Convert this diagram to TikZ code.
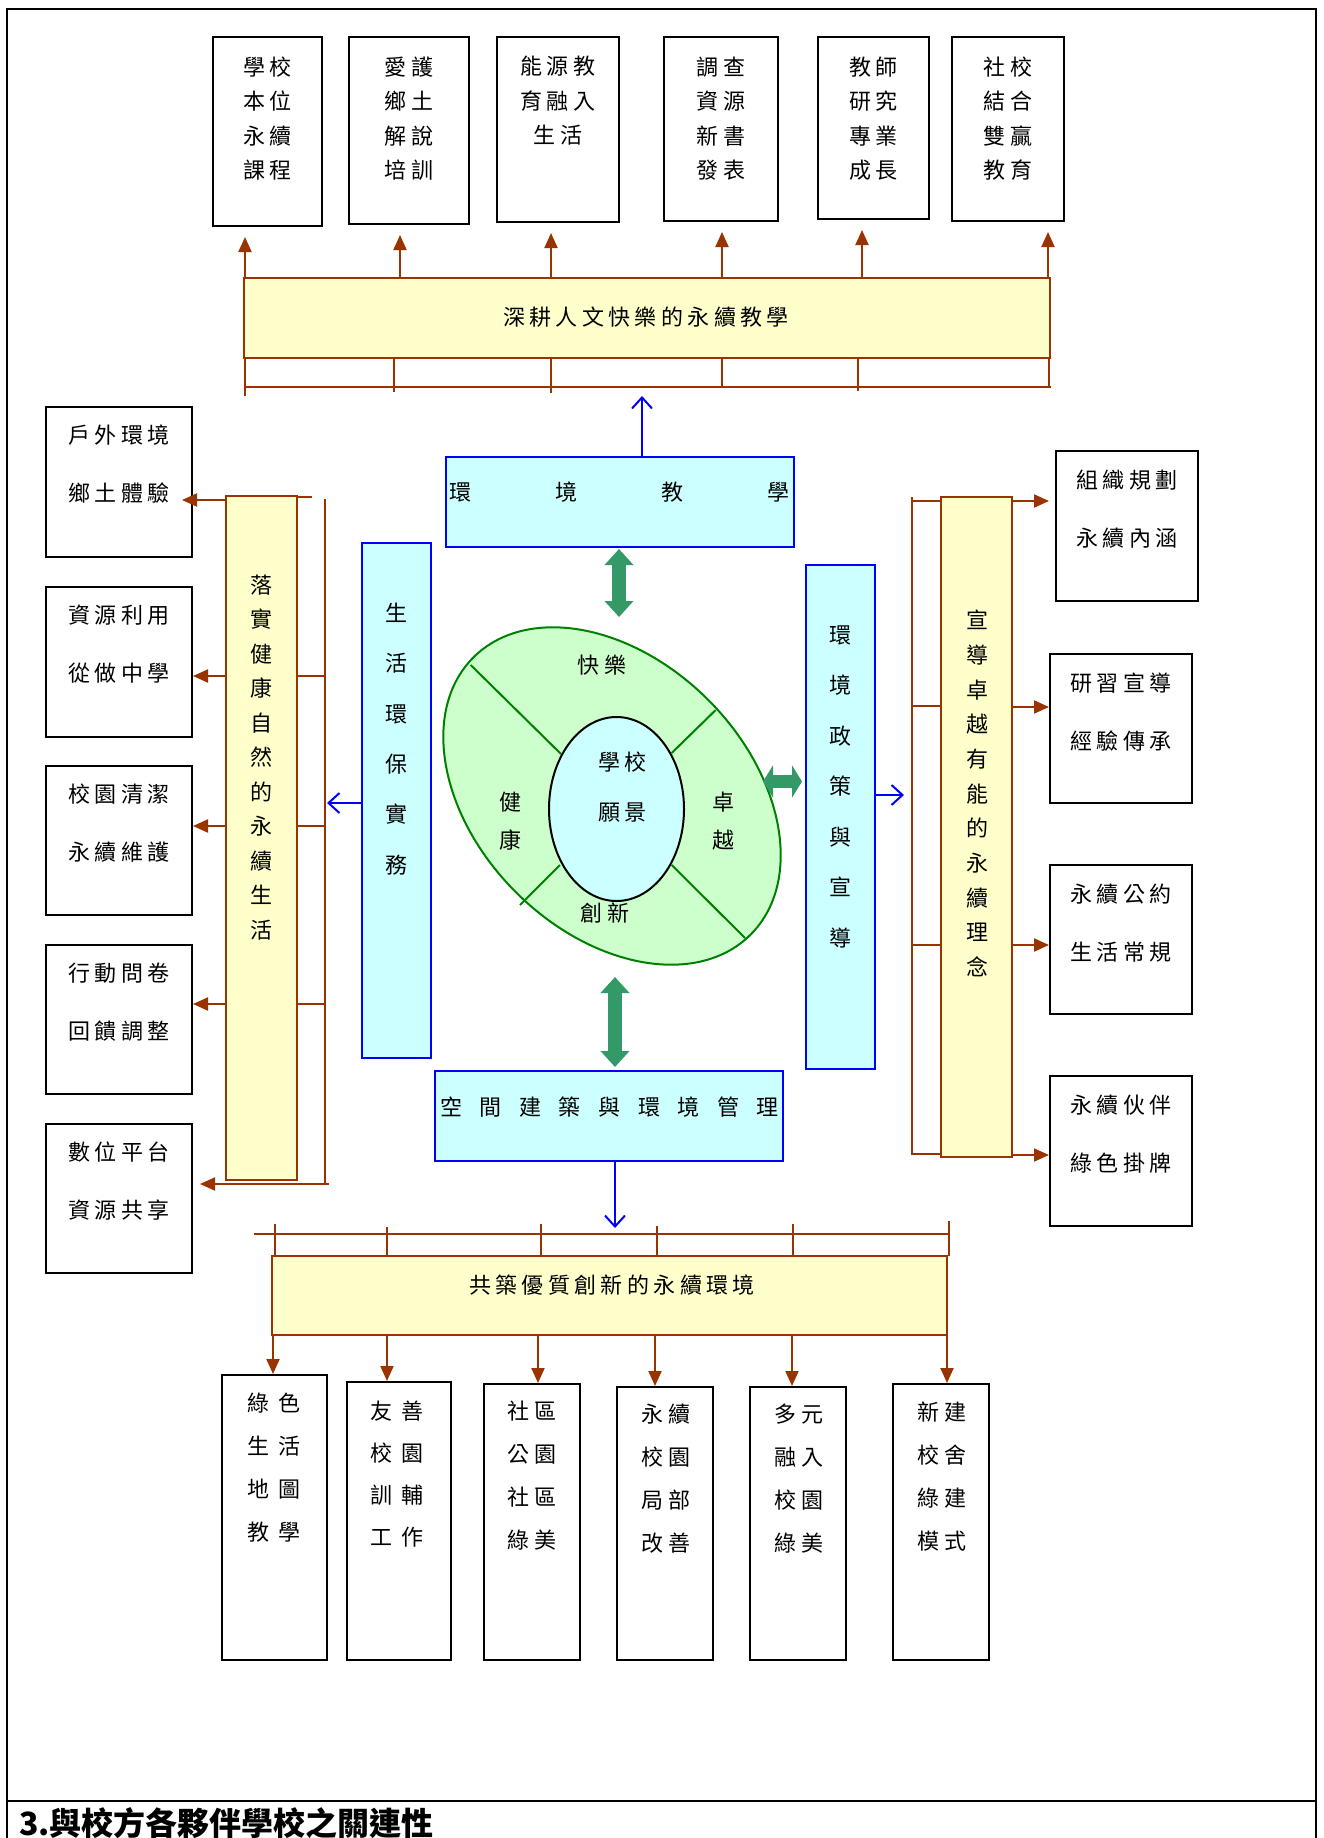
\documentclass[tikz,border=0pt]{standalone}
\usepackage{fontspec}
\setmainfont{Noto Sans CJK TC}
\newfontfamily\tcA[LetterSpace=20]{Noto Sans CJK TC}
\newfontfamily\tcB{Noto Sans CJK TC}
\newfontfamily\tcC[LetterSpace=45]{Noto Sans CJK TC}
\usetikzlibrary{arrows.meta,shapes.geometric,calc,fit}
\definecolor{brn}{HTML}{993300}
\definecolor{ylw}{HTML}{FFFFCC}
\definecolor{cyn}{HTML}{CCFFFF}
\definecolor{lgrn}{HTML}{CCFFCC}
\definecolor{dgrn}{HTML}{008000}
\definecolor{garr}{HTML}{339966}
\definecolor{blu}{HTML}{0000FF}
\begin{document}
\begin{tikzpicture}[x=1pt,y=-1pt,
  plainbox/.style={draw=black, line width=2pt, fill=white, inner sep=0pt},
  ybar/.style={draw=brn, line width=2pt, fill=ylw, inner sep=0pt},
  cbox/.style={draw=blu, line width=2pt, fill=cyn, inner sep=0pt},
  lblA/.style={inner sep=0pt, align=center, font={\tcA\fontsize{22}{#1}\selectfont}},
  lblA/.default=26,
  lblB/.style={inner sep=0pt, align=center, font={\tcB\fontsize{22}{#1}\selectfont}},
  lblB/.default=26,
  lblC/.style={inner sep=0pt, align=center, font={\tcC\fontsize{22}{#1}\selectfont}},
  lblC/.default=26,
  brline/.style={draw=brn, line width=2pt},
  brarrow/.style={draw=brn, line width=2pt, -{Triangle[width=13pt,length=15pt]}},
  bluarrow/.style={draw=blu, line width=2pt, -{Straight Barb[width=20pt,length=11pt]}},
  grnarrow/.style={draw=garr, line width=14pt, {Triangle[width=28pt,length=16pt]}-{Triangle[width=28pt,length=16pt]}},
  grnarrowh/.style={draw=garr, line width=13pt, {Triangle[width=32pt,length=10pt]}-{Triangle[width=32pt,length=10pt]}},
  divline/.style={draw=dgrn, line width=2pt}
]
\useasboundingbox (0,0) rectangle (1323,1838);
\fill[white] (0,0) rectangle (1323,1838);

% frame
\draw[line width=2.2pt] (7,1838) -- (7,9) -- (1316,9) -- (1316,1838);
\draw[line width=2pt] (7,1801) -- (1316,1801);
\node[anchor=west, inner sep=0pt, font={\tcB\bfseries\fontsize{32}{36}\selectfont}] (foot) at (19,1823) {3.與校方各夥伴學校之關連性};

% ---------- top boxes ----------
\node[plainbox, fit={(213,37)(322,226)}] (t1) {};
\node[lblA=34.5] (t1x) at (267.5,118.5) {學校\\本位\\永續\\課程};
\node[plainbox, fit={(349,37)(469,224)}] (t2) {};
\node[lblA=34.5] (t2x) at (409,118.5) {愛護\\鄉土\\解說\\培訓};
\node[plainbox, fit={(497,37)(619,222)}] (t3) {};
\node[lblA=34.5] (t3x) at (558,101) {能源教\\育融入\\生活};
\node[plainbox, fit={(664,37)(778,221)}] (t4) {};
\node[lblA=34.5] (t4x) at (721,118.5) {調查\\資源\\新書\\發表};
\node[plainbox, fit={(818,37)(929,219)}] (t5) {};
\node[lblA=34.5] (t5x) at (873.5,118.5) {教師\\研究\\專業\\成長};
\node[plainbox, fit={(952,37)(1064,221)}] (t6) {};
\node[lblA=34.5] (t6x) at (1008,118.5) {社校\\結合\\雙贏\\教育};

% top yellow bar
\node[ybar, fit={(244,278)(1050,358)}] (topbar) {};
\node[lblA] (topbarx) at (646,317) {深耕人文快樂的永續教學};
\foreach \i/\xx in {1/245,2/400,3/551,4/722,5/862,6/1048}{
  \coordinate (ua\i) at (\xx,278);
  \draw[brarrow, shorten >=10pt] (ua\i) -- (ua\i |- t\i.south);
}
\draw[brline] (244,387) -- (1051,387);
\foreach \xx/\yy in {245/396,394/392,551/393,722/388,858/391,1049/388}{
  \draw[brline] (\xx,358) -- (\xx,\yy);
}

% environment teaching box
\node[cbox, fit={(446,457)(794,547)}] (envteach) {};
\node[lblB] (envteachx) at (619,492) {環\hspace{84pt}境\hspace{84pt}教\hspace{84pt}學};
\coordinate (bu) at (642,396);
\draw[bluarrow] (envteach.north -| bu) -- (bu);

% ellipse
\node[ellipse, draw=dgrn, line width=2pt, fill=lgrn, minimum width=392pt, minimum height=272pt, inner sep=0pt, rotate=-45] (outer) at (612,796) {};
\draw[divline] (470.7,665) -- (561,754);
\draw[divline] (715.7,710) -- (671.7,753);
\draw[divline] (671.7,865) -- (745,938);
\draw[divline] (560,865) -- (520,905);
\node[ellipse, draw=black, line width=2pt, fill=cyn, minimum width=135pt, minimum height=184pt, inner sep=0pt] (inner) at (616.5,809) {};
\node[lblA=50] (innerx) at (622.5,787) {學校\\願景};
\node[lblA] (happy) at (602,665) {快樂};
\node[lblA=38] (health) at (510,821) {健\\康};
\node[lblA=38] (excel) at (723,821) {卓\\越};
\node[lblA] (innov) at (605,913) {創新};

% green arrows
\coordinate (ga1) at (619,549);
\coordinate (ga2) at (619,617);
\draw[grnarrow] (ga1) -- (ga2);
\coordinate (gb1) at (615,977);
\coordinate (gb2) at (615,1067);
\draw[grnarrow] (gb1) -- (gb2);
\coordinate (gr1) at (763,781.5);
\coordinate (gr2) at (802,781.5);
\draw[grnarrowh] (gr1) -- (gr2);

% blue vertical boxes
\node[cbox, fit={(362,543)(431,1058)}] (life) {};
\node[lblB=50.4] (lifex) at (396,739) {生\\活\\環\\保\\實\\務};
\node[cbox, fit={(806,565)(875,1069)}] (policy) {};
\node[lblB=50.5] (policyx) at (840,786.5) {環\\境\\政\\策\\與\\宣\\導};
\coordinate (bl) at (327,803);
\draw[bluarrow] (life.west |- bl) -- (bl);
\coordinate (br) at (904,795);
\draw[bluarrow] (policy.east |- br) -- (br);

% space box
\node[cbox, fit={(435,1071)(783,1161)}] (space) {};
\node[lblB] (spacex) at (609.5,1107) {空\hspace{17.6pt}間\hspace{17.6pt}建\hspace{17.6pt}築\hspace{17.6pt}與\hspace{17.6pt}環\hspace{17.6pt}境\hspace{17.6pt}管\hspace{17.6pt}理};
\coordinate (bd) at (615,1228);
\draw[bluarrow] (space.south -| bd) -- (bd);

% ---------- left side ----------
\node[ybar, fit={(226,496)(297,1180)}] (lbar) {};
\node[lblB=34.5] (lbarx) at (261,757.5) {落\\實\\健\\康\\自\\然\\的\\永\\續\\生\\活};
\draw[brline] (325,499) -- (325,1184);
\draw[brline] (297,497) -- (312,497);
\foreach \yy in {676,826,1004}{ \draw[brline] (297,\yy) -- (325,\yy); }

\node[plainbox, fit={(46,407)(192,557)}] (l1) {};
\node[lblA=58] (l1x) at (119,464) {戶外環境\\鄉土體驗};
\node[plainbox, fit={(46,587)(192,737)}] (l2) {};
\node[lblA=58] (l2x) at (119,644) {資源利用\\從做中學};
\node[plainbox, fit={(46,766)(192,915)}] (l3) {};
\node[lblA=58] (l3x) at (119,823) {校園清潔\\永續維護};
\node[plainbox, fit={(46,945)(192,1094)}] (l4) {};
\node[lblA=58] (l4x) at (119,1002) {行動問卷\\回饋調整};
\node[plainbox, fit={(46,1124)(192,1273)}] (l5) {};
\node[lblA=58] (l5x) at (119,1181) {數位平台\\資源共享};

\coordinate (la1) at (182,500);
\coordinate (la2) at (193,676);
\coordinate (la3) at (193,826);
\coordinate (la4) at (193,1004);
\foreach \i in {1,2,3,4}{ \draw[brarrow] (lbar.west |- la\i) -- (la\i); }
\coordinate (lb5) at (329,1184);
\coordinate (la5) at (200,1184);
\draw[brarrow] (lb5) -- (la5);

% ---------- right side ----------
\node[ybar, fit={(941,497)(1012,1157)}] (rbar) {};
\node[lblB=34.7] (rbarx) at (977,793.5) {宣\\導\\卓\\越\\有\\能\\的\\永\\續\\理\\念};
\draw[brline] (912,497) -- (912,1155);
\foreach \yy in {501,706,945,1154}{ \draw[brline] (912,\yy) -- (941,\yy); }

\node[plainbox, fit={(1056,451)(1198,601)}] (r1) {};
\node[lblA=58] (r1x) at (1127,509) {組織規劃\\永續內涵};
\node[plainbox, fit={(1050,654)(1192,803)}] (r2) {};
\node[lblA=58] (r2x) at (1121,712) {研習宣導\\經驗傳承};
\node[plainbox, fit={(1050,865)(1192,1014)}] (r3) {};
\node[lblA=58] (r3x) at (1121,923) {永續公約\\生活常規};
\node[plainbox, fit={(1050,1076)(1192,1226)}] (r4) {};
\node[lblA=58] (r4x) at (1121,1134) {永續伙伴\\綠色掛牌};

\coordinate (ra1) at (1049,501);
\coordinate (ra2) at (1049,707);
\coordinate (ra3) at (1049,945);
\coordinate (ra4) at (1049,1155);
\foreach \i in {1,2,3,4}{ \draw[brarrow] (rbar.east |- ra\i) -- (ra\i); }

% ---------- bottom ----------
\draw[brline] (254,1234) -- (949,1234);
\foreach \xx/\yy in {275/1224,387/1227,541/1224,657/1226,793/1224,949/1221}{
  \draw[brline] (\xx,\yy) -- (\xx,1256);
}
\node[ybar, fit={(272,1256)(947,1335)}] (bbar) {};
\node[lblA] (bbarx) at (612,1285) {共築優質創新的永續環境};

\node[plainbox, fit={(222,1375)(327,1660)}] (b1) {};
\node[lblC=43] (b1x) at (274,1467.5) {綠色\\生活\\地圖\\教學};
\node[plainbox, fit={(347,1382)(451,1660)}] (b2) {};
\node[lblC=42] (b2x) at (397,1474) {友善\\校園\\訓輔\\工作};
\node[plainbox, fit={(484,1384)(580,1660)}] (b3) {};
\node[lblA=43] (b3x) at (532,1476) {社區\\公園\\社區\\綠美};
\node[plainbox, fit={(617,1387)(713,1660)}] (b4) {};
\node[lblA=43] (b4x) at (666,1478.5) {永續\\校園\\局部\\改善};
\node[plainbox, fit={(750,1387)(846,1660)}] (b5) {};
\node[lblA=43] (b5x) at (799,1478.5) {多元\\融入\\校園\\綠美};
\node[plainbox, fit={(893,1384)(989,1660)}] (b6) {};
\node[lblA=43] (b6x) at (942,1477) {新建\\校舍\\綠建\\模式};

\foreach \i/\xx in {1/273,2/387,3/538,4/655,5/792,6/947}{
  \coordinate (da\i) at (\xx,1335);
  \draw[brarrow] (da\i) -- (da\i |- b\i.north);
}
\end{tikzpicture}
\end{document}
